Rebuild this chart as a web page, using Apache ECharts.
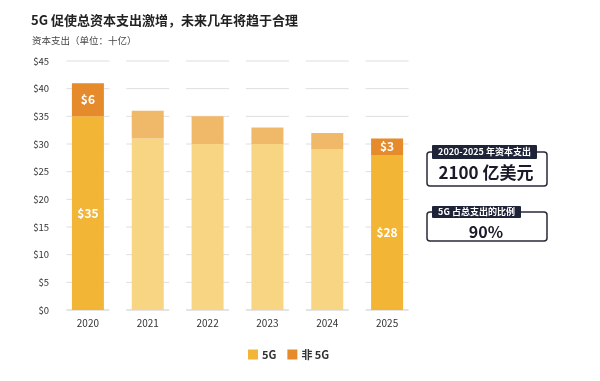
<!DOCTYPE html>
<html>
<head>
<meta charset="utf-8">
<script src="https://cdn.jsdelivr.net/npm/echarts@6/dist/echarts.min.js"></script>
<style>html,body{margin:0;padding:0;background:#fff}#c{width:600px;height:381px}</style>
</head>
<body>
<div id="c"></div>
<script>
const categories = ['2020', '2021', '2022', '2023', '2024', '2025'];
const capex5G = [35, 31, 30, 30, 29, 28];
const capexNon5G = [6, 5, 5, 3, 3, 3];
const highlighted = [true, false, false, false, false, true];
const yTicks = [0, 5, 10, 15, 20, 25, 30, 35, 40, 45];
const seriesNames = ['5G', '非 5G'];

const C5 = '#F3B536', CN = '#E68B2B', C5f = '#F8D583', CNf = '#F0B96A';
const font = '"Noto Sans CJK SC", "Noto Sans", sans-serif';

function barData(vals, strong, faded) {
  return vals.map((v, i) => ({
    value: v,
    itemStyle: { color: highlighted[i] ? strong : faded },
    label: { show: highlighted[i] }
  }));
}

const gridData = [];
categories.forEach((c, i) => yTicks.forEach(t => gridData.push([i, t])));

const chart = echarts.init(document.getElementById('c'), null, { renderer: 'canvas' });
chart.setOption({
  animation: false,
  title: [
    { text: '5G 促使总资本支出激增，未来几年将趋于合理', left: 26, top: 9,
      textStyle: { fontFamily: font, fontSize: 13, fontWeight: 'bold', color: '#222' } },
    { text: '资本支出（单位：十亿）', left: 27, top: 31,
      textStyle: { fontFamily: font, fontSize: 9.5, fontWeight: 'normal', color: '#444' } }
  ],
  legend: {
    data: seriesNames, left: 243, top: 344, itemWidth: 10, itemHeight: 10, itemGap: 11,
    icon: 'rect',
    textStyle: { fontFamily: font, fontSize: 11, fontWeight: 'bold', color: '#333', padding: [0, 0, 0, -1] }
  },
  grid: { left: 58, top: 61, width: 359, height: 249 },
  xAxis: {
    type: 'category', data: categories,
    axisLine: { show: false }, axisTick: { show: false },
    axisLabel: { margin: 8, fontFamily: font, fontSize: 10, color: '#333' }
  },
  yAxis: {
    type: 'value', min: 0, max: 45, interval: 5,
    splitLine: { show: false },
    axisLabel: { margin: 9, fontFamily: font, fontSize: 9.5, color: '#333', formatter: v => '$' + v }
  },
  series: [
    {
      type: 'custom', silent: true, z: 1, data: gridData,
      renderItem: function (params, api) {
        const p = api.coord([api.value(0), api.value(1)]);
        const half = 21.5;
        return { type: 'line', shape: { x1: p[0] - half, y1: p[1], x2: p[0] + half, y2: p[1] },
          style: { stroke: api.value(1) === 0 ? '#c9c9c9' : '#dedede', lineWidth: 1 } };
      }
    },
    {
      name: seriesNames[0], type: 'bar', stack: 'a', barWidth: 32, z: 3,
      itemStyle: { color: C5 },
      label: { show: false, position: 'inside', color: '#fff', fontWeight: 'bold', fontSize: 12, fontFamily: font, formatter: p => '$' + p.value },
      data: barData(capex5G, C5, C5f)
    },
    {
      name: seriesNames[1], type: 'bar', stack: 'a', barWidth: 32, z: 3,
      itemStyle: { color: CN },
      label: { show: false, position: 'inside', color: '#fff', fontWeight: 'bold', fontSize: 12, fontFamily: font, formatter: p => '$' + p.value },
      data: barData(capexNon5G, CN, CNf)
    }
  ],
  graphic: [
    { type: 'rect', shape: { x: 427, y: 152, width: 120, height: 34, r: 3 },
      style: { fill: '#fff', stroke: '#2a2a3a', lineWidth: 1.5 } },
    { type: 'rect', shape: { x: 432, y: 145, width: 105, height: 14, r: 1 },
      style: { fill: '#1e2338' } },
    { type: 'text', x: 484.5, y: 152, style: { text: '2020-2025 年资本支出', fill: '#fff', font: 'bold 9px ' + font, align: 'center', verticalAlign: 'middle' } },
    { type: 'text', x: 486, y: 173, style: { text: '2100 亿美元', fill: '#1a1a2a', font: 'bold 17px ' + font, align: 'center', verticalAlign: 'middle' } },
    { type: 'rect', shape: { x: 427, y: 212, width: 120, height: 29, r: 3 },
      style: { fill: '#fff', stroke: '#2a2a3a', lineWidth: 1.5 } },
    { type: 'rect', shape: { x: 432, y: 206, width: 89, height: 12, r: 1 },
      style: { fill: '#1e2338' } },
    { type: 'text', x: 476.5, y: 212, style: { text: '5G 占总支出的比例', fill: '#fff', font: 'bold 9px ' + font, align: 'center', verticalAlign: 'middle' } },
    { type: 'text', x: 486, y: 232, style: { text: '90%', fill: '#1a1a2a', font: 'bold 16px ' + font, align: 'center', verticalAlign: 'middle' } }
  ]
});
</script>
</body>
</html>
